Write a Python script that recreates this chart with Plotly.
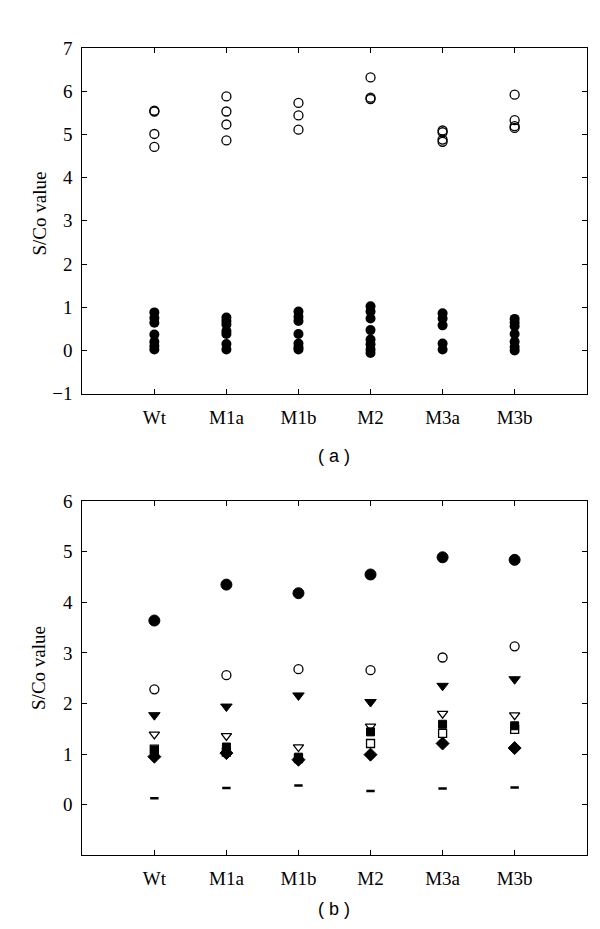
import plotly.graph_objects as go

categories = ["Wt", "M1a", "M1b", "M2", "M3a", "M3b"]

# Panel (a): open circles (high group) and filled circles (low group)
a_open = {
    "Wt": [5.55, 5.53, 5.01, 4.71],
    "M1a": [5.88, 5.53, 5.23, 4.86],
    "M1b": [5.73, 5.44, 5.11],
    "M2": [6.32, 5.85, 5.82],
    "M3a": [5.09, 5.05, 4.88, 4.83],
    "M3b": [5.92, 5.33, 5.19, 5.15],
}
a_filled = {
    "Wt": [0.88, 0.75, 0.64, 0.37, 0.2, 0.1, 0.02],
    "M1a": [0.76, 0.68, 0.6, 0.45, 0.38, 0.15, 0.02],
    "M1b": [0.9, 0.78, 0.68, 0.38, 0.16, 0.07, 0.02],
    "M2": [1.02, 0.9, 0.74, 0.47, 0.25, 0.14, 0.02, -0.06],
    "M3a": [0.86, 0.74, 0.58, 0.16, 0.02],
    "M3b": [0.73, 0.64, 0.56, 0.38, 0.2, 0.08, 0.0],
}

# Panel (b): one value per group and marker series
b_filled_circle = [3.64, 4.35, 4.18, 4.55, 4.89, 4.84]
b_open_circle = [2.28, 2.56, 2.68, 2.66, 2.91, 3.13]
b_filled_tri = [1.77, 1.94, 2.16, 2.03, 2.35, 2.48]
b_open_tri = [1.39, 1.36, 1.14, 1.55, 1.80, 1.77]
b_filled_square = [1.08, 1.14, 0.94, 1.44, 1.59, 1.56]
b_open_square = [1.10, 1.04, 0.91, 1.21, 1.41, 1.49]
b_diamond = [0.95, 1.02, 0.89, 0.99, 1.21, 1.12]
b_dash = [0.13, 0.33, 0.38, 0.27, 0.32, 0.34]

a_ticks = [-1, 0, 1, 2, 3, 4, 5, 6, 7]
b_ticks = [0, 1, 2, 3, 4, 5, 6]

fig = go.Figure()


def expand(d):
    xs, ys = [], []
    for c in categories:
        for v in d[c]:
            xs.append(c)
            ys.append(v)
    return xs, ys


x, y = expand(a_filled)
fig.add_trace(go.Scatter(x=x, y=y, mode="markers", xaxis="x", yaxis="y",
                         marker=dict(symbol="circle", size=10, color="black"),
                         showlegend=False))
x, y = expand(a_open)
fig.add_trace(go.Scatter(x=x, y=y, mode="markers", xaxis="x", yaxis="y",
                         marker=dict(symbol="circle-open", size=9, color="black",
                                     line=dict(width=1.3, color="black")),
                         showlegend=False))

b_series = [
    (b_filled_circle, "circle", 11, 1),
    (b_open_circle, "circle-open", 9, 1.3),
    (b_filled_tri, "triangle-down", 10, 1),
    (b_open_tri, "triangle-down-open", 9, 1.3),
    (b_filled_square, "square", 8, 1),
    (b_open_square, "square-open", 8, 1.3),
    (b_diamond, "diamond", 10, 1),
    (b_dash, "line-ew-open", 6, 2.5),
]
for vals, sym, size, lw in b_series:
    fig.add_trace(go.Scatter(x=categories, y=vals, mode="markers", xaxis="x2", yaxis="y2",
                             marker=dict(symbol=sym, size=size, color="black",
                                         line=dict(width=lw, color="black")),
                             showlegend=False))

serif = "Liberation Serif, Times New Roman, serif"
tickfont = dict(family=serif, size=19, color="black")
axis_common = dict(showline=True, linecolor="black", linewidth=1.2, mirror="ticks",
                   ticks="inside", ticklen=5, tickcolor="black", tickwidth=1,
                   showgrid=False, zeroline=False, tickfont=tickfont)

xd = [74.3 / 600, 578.7 / 600]
fig.update_layout(
    width=600, height=929,
    margin=dict(l=0, r=0, t=0, b=0),
    paper_bgcolor="white", plot_bgcolor="white",
    xaxis=dict(domain=xd, anchor="y", type="category", categoryorder="array",
               categoryarray=categories, range=[-1, 6], ticklabelstandoff=6, **axis_common),
    yaxis=dict(domain=[1 - 384.3 / 929, 1 - 30.7 / 929], anchor="x", range=[-1, 7],
               tickvals=a_ticks, ticklabelstandoff=5, **axis_common),
    xaxis2=dict(domain=xd, anchor="y2", type="category", categoryorder="array",
                categoryarray=categories, range=[-1, 6], ticklabelstandoff=6, **axis_common),
    yaxis2=dict(domain=[1 - 856.7 / 929, 1 - 494.3 / 929], anchor="x2", range=[-1, 6],
                tickvals=b_ticks, ticklabelstandoff=5, **axis_common),
    annotations=[
        dict(text="S/Co value", textangle=-90, x=31 / 600, y=1 - 200 / 929,
             xref="paper", yref="paper", xanchor="center", yanchor="middle", showarrow=False,
             font=dict(family=serif, size=19, color="black")),
        dict(text="S/Co value", textangle=-90, x=31 / 600, y=1 - 665 / 929,
             xref="paper", yref="paper", xanchor="center", yanchor="middle", showarrow=False,
             font=dict(family=serif, size=19, color="black")),
        dict(text="( a )", x=326 / 600, y=1 - 448 / 929, xref="paper", yref="paper",
             xanchor="center", yanchor="middle", showarrow=False,
             font=dict(family="Liberation Sans, Arial, sans-serif", size=18, color="black")),
        dict(text="( b )", x=326 / 600, y=1 - 912 / 929, xref="paper", yref="paper",
             xanchor="center", yanchor="middle", showarrow=False,
             font=dict(family="Liberation Sans, Arial, sans-serif", size=18, color="black")),
    ],
)

fig.write_html("out.html")
